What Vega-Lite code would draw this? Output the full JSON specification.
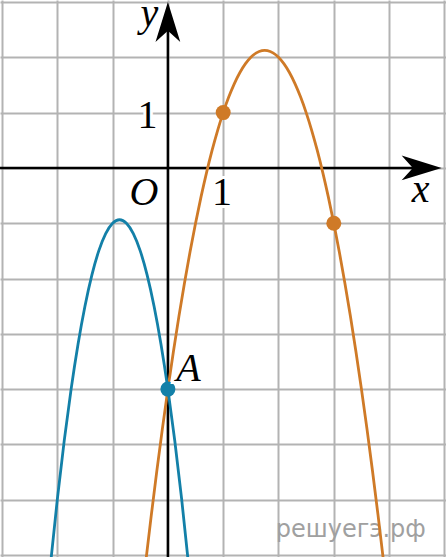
{
  "$schema": "https://vega.github.io/schema/vega-lite/v6.json",
  "width": 446,
  "height": 557,
  "padding": 0,
  "autosize": {"type": "none"},
  "background": "white",
  "config": {
    "view": {"stroke": null},
    "axis": {"domain": false, "ticks": false, "labels": false, "grid": true, "gridColor": "#b3b3b3", "gridWidth": 2, "gridOpacity": 1}
  },
  "datasets": {
    "orange": [
      {"x": -0.5, "y": -8.0}, {"x": -0.4, "y": -7.12}, {"x": -0.3, "y": -6.28}, {"x": -0.2, "y": -5.48}, {"x": -0.1, "y": -4.72},
      {"x": 0.0, "y": -4.0}, {"x": 0.1, "y": -3.32}, {"x": 0.2, "y": -2.68}, {"x": 0.3, "y": -2.08}, {"x": 0.4, "y": -1.52},
      {"x": 0.5, "y": -1.0}, {"x": 0.6, "y": -0.52}, {"x": 0.7, "y": -0.08}, {"x": 0.8, "y": 0.32}, {"x": 0.9, "y": 0.68},
      {"x": 1.0, "y": 1.0}, {"x": 1.1, "y": 1.28}, {"x": 1.2, "y": 1.52}, {"x": 1.3, "y": 1.72}, {"x": 1.4, "y": 1.88},
      {"x": 1.5, "y": 2.0}, {"x": 1.6, "y": 2.08}, {"x": 1.7, "y": 2.12}, {"x": 1.75, "y": 2.125}, {"x": 1.8, "y": 2.12},
      {"x": 1.9, "y": 2.08}, {"x": 2.0, "y": 2.0}, {"x": 2.1, "y": 1.88}, {"x": 2.2, "y": 1.72}, {"x": 2.3, "y": 1.52},
      {"x": 2.4, "y": 1.28}, {"x": 2.5, "y": 1.0}, {"x": 2.6, "y": 0.68}, {"x": 2.7, "y": 0.32}, {"x": 2.8, "y": -0.08},
      {"x": 2.9, "y": -0.52}, {"x": 3.0, "y": -1.0}, {"x": 3.1, "y": -1.52}, {"x": 3.2, "y": -2.08}, {"x": 3.3, "y": -2.68},
      {"x": 3.4, "y": -3.32}, {"x": 3.5, "y": -4.0}, {"x": 3.6, "y": -4.72}, {"x": 3.7, "y": -5.48}, {"x": 3.8, "y": -6.28},
      {"x": 3.9, "y": -7.12}, {"x": 4.0, "y": -8.0}
    ],
    "blue": [
      {"x": -2.25, "y": -8.5}, {"x": -2.125, "y": -7.1875}, {"x": -2.0, "y": -6.0}, {"x": -1.875, "y": -4.9375},
      {"x": -1.75, "y": -4.0}, {"x": -1.625, "y": -3.1875}, {"x": -1.5, "y": -2.5}, {"x": -1.375, "y": -1.9375},
      {"x": -1.25, "y": -1.5}, {"x": -1.125, "y": -1.1875}, {"x": -1.0, "y": -1.0}, {"x": -0.875, "y": -0.9375},
      {"x": -0.75, "y": -1.0}, {"x": -0.625, "y": -1.1875}, {"x": -0.5, "y": -1.5}, {"x": -0.375, "y": -1.9375},
      {"x": -0.25, "y": -2.5}, {"x": -0.125, "y": -3.1875}, {"x": 0.0, "y": -4.0}, {"x": 0.125, "y": -4.9375},
      {"x": 0.25, "y": -6.0}, {"x": 0.375, "y": -7.1875}, {"x": 0.5, "y": -8.5}
    ],
    "orangePts": [{"x": 1, "y": 1}, {"x": 3, "y": -1}],
    "bluePts": [{"x": 0, "y": -4}],
    "axisV": [{"x": 0, "y": -7.2, "y2": 2.6}],
    "axisH": [{"x": -3.1, "x2": 4.5, "y": 0}],
    "arrows": [{"x": 0, "y": 3.0, "angle": 0}, {"x": 4.95, "y": 0, "angle": 90}],
    "labelsItalic": [
      {"x": -0.333, "y": 2.566, "t": "y"},
      {"x": 4.568, "y": -0.611, "t": "x"},
      {"x": -0.432, "y": -0.671, "t": "O"},
      {"x": 0.373, "y": -3.848, "t": "A"}
    ],
    "labelsUpright": [
      {"x": -0.369, "y": 0.722, "t": "1"},
      {"x": 0.978, "y": -0.671, "t": "1"}
    ],
    "watermark": [{"x": 3.307, "y": -6.669, "t": "решуегэ.рф"}]
  },
  "encoding": {
    "x": {"field": "x", "type": "quantitative", "scale": {"domain": [-3.036, 5.029], "nice": false, "zero": false}, "axis": {"title": null, "values": [-3, -2, -1, 0, 1, 2, 3, 4, 5]}},
    "y": {"field": "y", "type": "quantitative", "scale": {"domain": [-7.036, 3.036], "nice": false, "zero": false}, "axis": {"title": null, "values": [-7, -6, -5, -4, -3, -2, -1, 0, 1, 2, 3]}}
  },
  "layer": [
    {
      "data": {"name": "watermark"},
      "mark": {"type": "text", "font": "DejaVu Sans", "fontSize": 24, "color": "#a0a0a0", "align": "center", "baseline": "alphabetic"},
      "encoding": {"text": {"field": "t"}}
    },
    {
      "data": {"name": "axisV"},
      "mark": {"type": "rule", "color": "black", "strokeWidth": 2.5},
      "encoding": {"y2": {"field": "y2"}}
    },
    {
      "data": {"name": "axisH"},
      "mark": {"type": "rule", "color": "black", "strokeWidth": 2.5},
      "encoding": {"x2": {"field": "x2"}}
    },
    {
      "data": {"name": "orange"},
      "mark": {"type": "line", "color": "#cf7a27", "strokeWidth": 2.8, "interpolate": "monotone", "clip": true},
      "encoding": {"order": {"field": "x", "type": "quantitative"}}
    },
    {
      "data": {"name": "blue"},
      "mark": {"type": "line", "color": "#1380a8", "strokeWidth": 2.8, "interpolate": "monotone", "clip": true},
      "encoding": {"order": {"field": "x", "type": "quantitative"}}
    },
    {
      "data": {"name": "orangePts"},
      "mark": {"type": "circle", "color": "#cf7a27", "size": 225, "opacity": 1}
    },
    {
      "data": {"name": "bluePts"},
      "mark": {"type": "circle", "color": "#1380a8", "size": 225, "opacity": 1}
    },
    {
      "data": {"name": "arrows"},
      "mark": {"type": "point", "shape": "M0,0 L-0.31,1 L0,0.72 L0.31,1 Z", "filled": true, "color": "black", "size": 6400, "opacity": 1},
      "encoding": {"angle": {"field": "angle", "type": "quantitative", "scale": null}}
    },
    {
      "data": {"name": "labelsItalic"},
      "mark": {"type": "text", "font": "Liberation Serif", "fontStyle": "italic", "fontSize": 40, "align": "center", "baseline": "alphabetic", "color": "white", "stroke": "white", "strokeWidth": 6},
      "encoding": {"text": {"field": "t"}}
    },
    {
      "data": {"name": "labelsUpright"},
      "mark": {"type": "text", "font": "Liberation Serif", "fontSize": 40, "align": "center", "baseline": "alphabetic", "color": "white", "stroke": "white", "strokeWidth": 6},
      "encoding": {"text": {"field": "t"}}
    },
    {
      "data": {"name": "labelsItalic"},
      "mark": {"type": "text", "font": "Liberation Serif", "fontStyle": "italic", "fontSize": 40, "align": "center", "baseline": "alphabetic", "color": "black"},
      "encoding": {"text": {"field": "t"}}
    },
    {
      "data": {"name": "labelsUpright"},
      "mark": {"type": "text", "font": "Liberation Serif", "fontSize": 40, "align": "center", "baseline": "alphabetic", "color": "black"},
      "encoding": {"text": {"field": "t"}}
    }
  ]
}
